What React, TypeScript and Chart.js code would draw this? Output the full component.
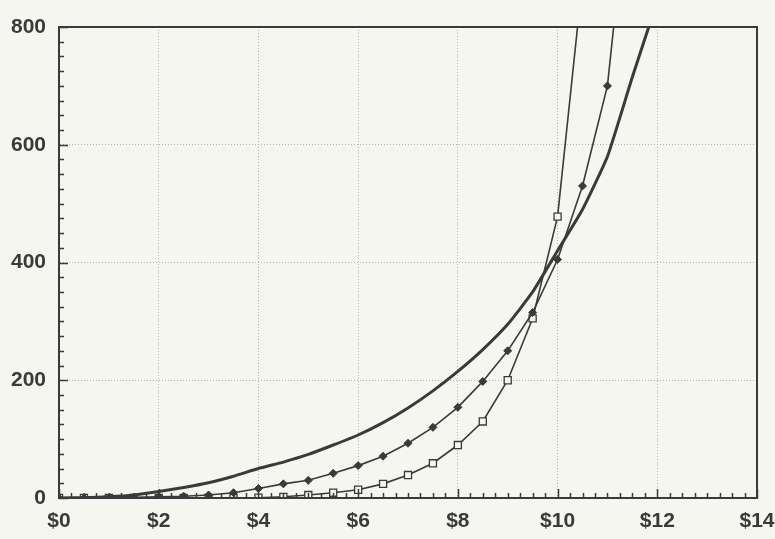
import React, { useEffect, useRef } from "react";
import { Chart, registerables } from "chart.js";

Chart.register(...registerables);

// Prices (x values) at $0.50 steps
const prices = [0, 0.5, 1, 1.5, 2, 2.5, 3, 3.5, 4, 4.5, 5, 5.5, 6, 6.5, 7, 7.5, 8, 8.5, 9, 9.5, 10, 10.5, 11, 11.5, 12];

// Thick smooth curve (no markers)
const plainSeries = [0, 0.5, 2, 5, 11, 18, 26, 37, 50, 61, 74, 90, 107, 128, 153, 182, 215, 252, 295, 350, 420, 490, 580, 715, 844];

// Curve with filled diamond markers
const diamondSeries = [0, 0, 0.3, 1, 2, 3, 5, 9, 16, 24, 30, 42, 55, 71, 93, 120, 154, 198, 250, 315, 405, 530, 700, 1100];

// Curve with hollow square markers
const squareSeries = [0, 0, 0, 0, 0, 0, 0, 0.2, 0.5, 2, 5, 9, 14, 24, 39, 59, 90, 130, 200, 305, 478, 880];

const xTicks = [0, 2, 4, 6, 8, 10, 12, 14];
const yTicks = [0, 200, 400, 600, 800];

const BG = "#f6f6f1";
const INK = "#3a3a3a";
const FONT = "'Liberation Sans', Arial, sans-serif";

const toPoints = (ys: number[]) => ys.map((y, i) => ({ x: prices[i], y }));

const framePlugin = {
  id: "frameAndTicks",
  beforeDraw(chart: any) {
    const { ctx, width, height } = chart;
    ctx.save();
    ctx.fillStyle = BG;
    ctx.fillRect(0, 0, width, height);
    ctx.restore();
  },
  afterDraw(chart: any) {
    const { ctx, chartArea: a, scales } = chart;
    const xs = scales.x;
    const ys = scales.y;
    ctx.save();
    ctx.strokeStyle = INK;
    ctx.lineWidth = 1.5;
    ctx.beginPath();
    const xMax = xTicks[xTicks.length - 1];
    for (let i = 0; i <= xMax * 4; i++) {
      const v = i / 4;
      const px = Math.round(xs.getPixelForValue(v)) + 0.5;
      const major = i % 8 === 0;
      const len = major ? 9 : 5;
      ctx.moveTo(px, a.bottom);
      ctx.lineTo(px, a.bottom - len);
    }
    const yMax = yTicks[yTicks.length - 1];
    for (let i = 0; i <= yMax / 25; i++) {
      const v = i * 25;
      const py = Math.round(ys.getPixelForValue(v)) + 0.5;
      const major = i % 8 === 0;
      const len = major ? 9 : 5;
      ctx.moveTo(a.left, py);
      ctx.lineTo(a.left + len, py);
    }
    ctx.stroke();
    ctx.lineWidth = 2;
    ctx.strokeRect(a.left, a.top, a.right - a.left, a.bottom - a.top);
    ctx.restore();
  },
};

export default function App() {
  const canvasRef = useRef<HTMLCanvasElement | null>(null);

  useEffect(() => {
    document.body.style.margin = "0";
    document.body.style.background = BG;
    const canvas = canvasRef.current;
    if (!canvas) return;
    const chart = new Chart(canvas, {
      type: "line",
      data: {
        datasets: [
          {
            label: "plain",
            data: toPoints(plainSeries),
            borderColor: INK,
            borderWidth: 3,
            pointRadius: 0,
            tension: 0.15,
          },
          {
            label: "diamond",
            data: toPoints(diamondSeries),
            borderColor: INK,
            borderWidth: 1.6,
            pointStyle: "rectRot",
            pointRadius: 4,
            pointBackgroundColor: INK,
            pointBorderColor: INK,
            pointBorderWidth: 1,
            tension: 0,
          },
          {
            label: "square",
            data: toPoints(squareSeries),
            borderColor: INK,
            borderWidth: 1.6,
            pointStyle: "rect",
            pointRadius: 5,
            pointBackgroundColor: BG,
            pointBorderColor: INK,
            pointBorderWidth: 1.3,
            tension: 0,
          },
        ],
      },
      options: {
        responsive: false,
        animation: false,
        events: [],
        layout: { padding: { top: 27, right: 18, left: 0, bottom: 0 } },
        plugins: {
          legend: { display: false },
          tooltip: { enabled: false },
          title: { display: false },
        },
        scales: {
          x: {
            type: "linear",
            min: xTicks[0],
            max: xTicks[xTicks.length - 1],
            afterBuildTicks: (s: any) => {
              s.ticks = xTicks.map((v) => ({ value: v }));
            },
            afterFit: (s: any) => {
              s.height = 41;
              s.paddingLeft = 0;
              s.paddingRight = 0;
            },
            ticks: {
              padding: 11,
              color: INK,
              font: { family: FONT, size: 21, weight: "bold" },
              maxRotation: 0,
              autoSkip: false,
              callback: (v: any) => "$" + v,
            },
            grid: {
              color: "#b4b4b0",
              lineWidth: 1,
              drawTicks: false,
            },
            border: { display: true, color: INK, width: 2, dash: [1, 2] },
          },
          y: {
            type: "linear",
            min: yTicks[0],
            max: yTicks[yTicks.length - 1],
            afterBuildTicks: (s: any) => {
              s.ticks = yTicks.map((v) => ({ value: v }));
            },
            afterFit: (s: any) => {
              s.width = 59;
              s.paddingTop = 0;
              s.paddingBottom = 0;
            },
            ticks: {
              padding: 13,
              color: INK,
              font: { family: FONT, size: 21, weight: "bold" },
              autoSkip: false,
            },
            grid: {
              color: "#b4b4b0",
              lineWidth: 1,
              drawTicks: false,
            },
            border: { display: true, color: INK, width: 2, dash: [1, 2] },
          },
        },
      },
      plugins: [framePlugin],
    } as any);
    return () => chart.destroy();
  }, []);

  return (
    <div style={{ width: 775, height: 539, background: BG }}>
      <canvas ref={canvasRef} width={775} height={539} style={{ display: "block" }} />
    </div>
  );
}
